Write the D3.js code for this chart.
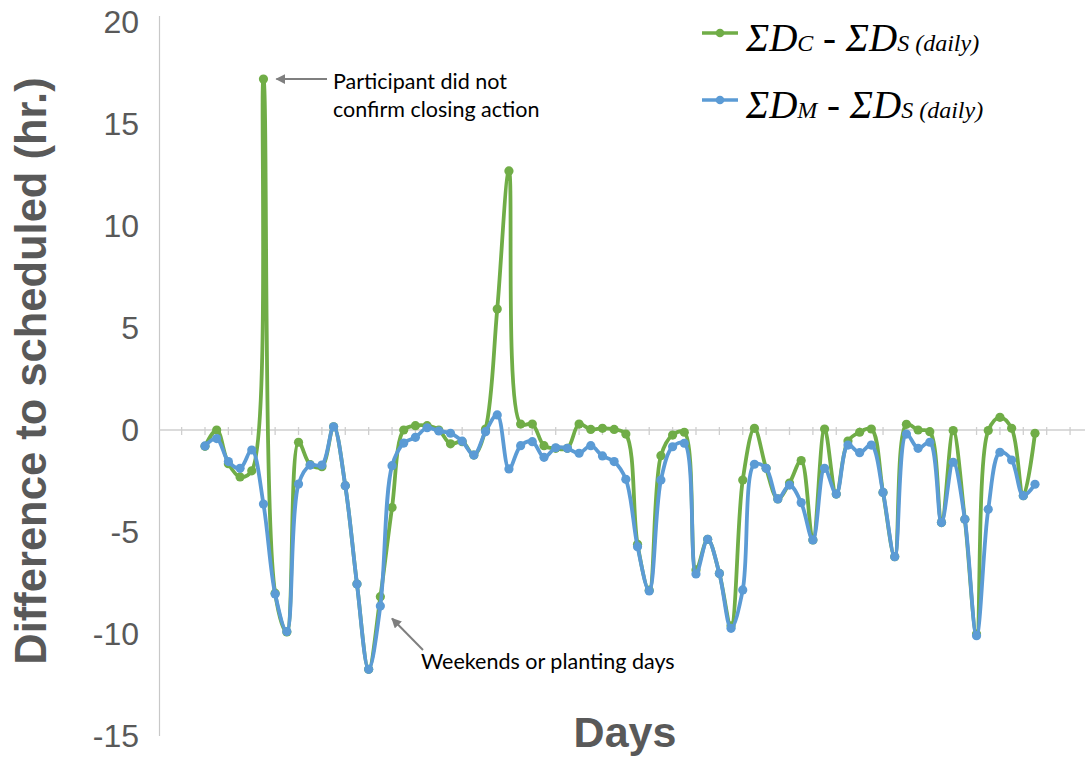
<!DOCTYPE html>
<html>
<head>
<meta charset="utf-8">
<script src="https://cdn.jsdelivr.net/npm/d3@7/dist/d3.min.js"></script>
<style>
  html, body { margin: 0; padding: 0; background: #ffffff; }
  svg { display: block; }
</style>
</head>
<body>
<svg id="chart" width="1085" height="757"></svg>
<script>
// ---- Data ----
const days = d3.range(1, 73); // 72 days
const seriesCminusS = [-0.8, 0.0, -1.65, -2.3, -2.0, 17.2, -8.0, -9.9, -0.6, -1.7,
  -1.8, 0.16, -2.73, -7.55, -11.73, -8.17, -3.8, 0.0, 0.21, 0.21,
  0.0, -0.68, -0.57, -1.23, 0.05, 5.93, 12.7, 0.29, 0.29, -0.77,
  -0.9, -0.9, 0.29, 0.03, 0.08, 0.03, -0.2, -5.6, -7.85, -1.26,
  -0.25, -0.11, -6.86, -5.36, -7.03, -9.6, -2.45, 0.08, -1.88, -3.38,
  -2.6, -1.5, -5.39, 0.05, -3.14, -0.54, -0.11, 0.05, -3.06, -6.21,
  0.28, 0.0, -0.08, -4.54, -0.03, -4.38, -10.0, -0.03, 0.62, 0.08,
  -3.22, -0.16];
const seriesMminusS = [-0.78, -0.42, -1.55, -1.88, -0.98, -3.63, -8.04, -9.88, -2.65, -1.72,
  -1.72, 0.16, -2.73, -7.55, -11.73, -8.63, -1.75, -0.64, -0.36, 0.11,
  -0.05, -0.16, -0.55, -1.23, -0.08, 0.74, -1.91, -0.77, -0.57, -1.34,
  -0.87, -0.9, -1.14, -0.77, -1.27, -1.55, -2.42, -5.72, -7.89, -2.45,
  -0.82, -0.65, -7.06, -5.36, -7.03, -9.72, -7.84, -1.68, -1.88, -3.38,
  -2.7, -3.56, -5.39, -1.88, -3.14, -0.74, -1.11, -0.74, -3.06, -6.21,
  -0.2, -0.9, -0.6, -4.54, -1.58, -4.38, -10.08, -3.89, -1.09, -1.47,
  -3.22, -2.66];
const yTicks = [-15, -10, -5, 0, 5, 10, 15, 20];
const yTitle = "Difference to scheduled (hr.)";
const xTitle = "Days";
const noteSpike = ["Participant did not", "confirm closing action"];
const noteWeekend = "Weekends or planting days";

// ---- Layout ----
const svg = d3.select("#chart");
const green = "#70AD47", blue = "#5B9BD5";
const x = d3.scaleLinear().domain([1, 72]).range([205, 1035]);
const y = d3.scaleLinear().domain([-15, 20]).range([736, 22]);

// defs: arrow head
svg.append("defs").append("marker")
  .attr("id", "arr").attr("viewBox", "0 0 10 10").attr("refX", 9).attr("refY", 5)
  .attr("markerWidth", 5).attr("markerHeight", 5).attr("orient", "auto-start-reverse")
  .append("path").attr("d", "M0,0 L10,5 L0,10 Z").attr("fill", "#7f7f7f");

// y axis line
svg.append("line").attr("x1", 159.5).attr("x2", 159.5).attr("y1", 16).attr("y2", y(-15))
  .attr("stroke", "#c8c8c8").attr("stroke-width", 1.2);

// zero line with ticks
svg.append("line").attr("x1", 159).attr("x2", 1085).attr("y1", y(0)).attr("y2", y(0))
  .attr("stroke", "#cfcfcf").attr("stroke-width", 1.5);
const tickDays = d3.range(-3, 80, 2).filter(d => x(d) >= 159 && x(d) <= 1085);
svg.append("g").selectAll("line").data(tickDays).join("line")
  .attr("x1", d => x(d)).attr("x2", d => x(d))
  .attr("y1", y(0) - 3).attr("y2", y(0) + 5)
  .attr("stroke", "#cfcfcf").attr("stroke-width", 1.3);

// y axis tick labels via d3 axis
const yAxis = d3.axisLeft(y).tickValues(yTicks).tickSize(0).tickPadding(20)
  .tickFormat(d => d);
const gy = svg.append("g").attr("transform", "translate(159,0)").call(yAxis);
gy.select(".domain").remove();
gy.selectAll("text").attr("font-family", "'Liberation Sans', Arial, sans-serif")
  .attr("font-size", 32).attr("fill", "#595959");

// axis titles
svg.append("text").attr("transform", `translate(46,${371}) rotate(-90)`)
  .attr("text-anchor", "middle").attr("font-family", "'Liberation Sans', Arial, sans-serif")
  .attr("font-weight", "bold").attr("font-size", 43.5).attr("fill", "#595959")
  .text(yTitle);
svg.append("text").attr("x", 625).attr("y", 747).attr("text-anchor", "middle")
  .attr("font-family", "'Liberation Sans', Arial, sans-serif")
  .attr("font-weight", "bold").attr("font-size", 43).attr("fill", "#595959")
  .text(xTitle);

// series
const line = d3.line().x((d, i) => x(days[i])).y(d => y(d)).curve(d3.curveCatmullRom.alpha(0.5));
const series = [
  {values: seriesCminusS, color: green},
  {values: seriesMminusS, color: blue}
];
series.forEach(s => {
  const g = svg.append("g");
  g.append("path").attr("d", line(s.values)).attr("fill", "none")
    .attr("stroke", s.color).attr("stroke-width", 3.8).attr("stroke-linejoin", "round");
  g.selectAll("circle").data(s.values).join("circle")
    .attr("cx", (d, i) => x(days[i])).attr("cy", d => y(d)).attr("r", 4.6)
    .attr("fill", s.color);
});

// legend
const legend = [
  {color: green, sub1: "C", ly: 33, ty: 51},
  {color: blue, sub1: "M", ly: 100, ty: 118}
];
legend.forEach(l => {
  svg.append("line").attr("x1", 702).attr("x2", 738).attr("y1", l.ly).attr("y2", l.ly)
    .attr("stroke", l.color).attr("stroke-width", 3.5);
  svg.append("circle").attr("cx", 720).attr("cy", l.ly).attr("r", 4.3).attr("fill", l.color);
  const t = svg.append("text").attr("x", 746).attr("y", l.ty)
    .attr("font-family", "'Liberation Serif', 'Times New Roman', serif")
    .attr("font-style", "italic").attr("fill", "#000");
  t.append("tspan").attr("font-size", 39).text("\u03A3D");
  t.append("tspan").attr("font-size", 24).text(l.sub1);
  t.append("tspan").attr("font-size", 39).text(" - \u03A3D");
  t.append("tspan").attr("font-size", 24).text("S (daily)");
});

// annotations
const peakIdx = seriesCminusS.indexOf(d3.max(seriesCminusS));
svg.append("line").attr("x1", 327).attr("y1", y(seriesCminusS[peakIdx]))
  .attr("x2", x(days[peakIdx]) + 13).attr("y2", y(seriesCminusS[peakIdx]))
  .attr("stroke", "#7f7f7f").attr("stroke-width", 2).attr("marker-end", "url(#arr)");
const n1 = svg.append("text").attr("font-family", "Lato, 'Open Sans', sans-serif")
  .attr("font-size", 21.5).attr("fill", "#000");
n1.append("tspan").attr("x", 333).attr("y", 89).text(noteSpike[0]);
n1.append("tspan").attr("x", 333).attr("y", 117).text(noteSpike[1]);

svg.append("line").attr("x1", 423).attr("y1", 650).attr("x2", 392).attr("y2", 618.5)
  .attr("stroke", "#7f7f7f").attr("stroke-width", 2).attr("marker-end", "url(#arr)");
svg.append("text").attr("x", 421).attr("y", 669).attr("font-family", "Lato, 'Open Sans', sans-serif")
  .attr("font-size", 21.5).attr("fill", "#000").text(noteWeekend);
</script>
</body>
</html>
